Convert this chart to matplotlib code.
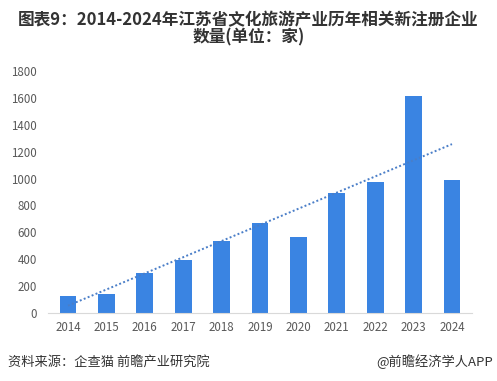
import matplotlib
matplotlib.use("Agg")
import matplotlib.pyplot as plt
import numpy as np

plt.rcParams['font.family'] = ['Noto Sans CJK SC', 'DejaVu Sans']

years = ['2014', '2015', '2016', '2017', '2018', '2019', '2020', '2021', '2022', '2023', '2024']
counts = [130, 145, 300, 395, 535, 670, 565, 892, 974, 1615, 989]
yticks = [0, 200, 400, 600, 800, 1000, 1200, 1400, 1600, 1800]

fig = plt.figure(figsize=(4.97, 3.81), dpi=100)
ax = fig.add_axes([0.0966, 0.1785, 0.853, 0.635])

x = np.arange(len(years))
ax.bar(x, counts, width=0.44, color='#3a84e2', zorder=2)

# linear trend line (fitted from the data)
k, b = np.polyfit(x, counts, 1)
ax.plot(x, k * x + b, linestyle=(0, (1, 1.2)), color='#4a7ec8', linewidth=1.4, zorder=3)

ax.set_xlim(-0.52, len(years) - 0.48)
ax.set_ylim(0, 1800)
ax.set_xticks(x)
ax.set_xticklabels(years)
ax.set_yticks(yticks)
ax.tick_params(axis='both', length=0, labelsize=8.3, colors='#595959')
ax.tick_params(axis='x', pad=6)
ax.tick_params(axis='y', pad=8)
for s in ['top', 'right', 'left']:
    ax.spines[s].set_visible(False)
ax.spines['bottom'].set_color('#d9d9d9')

fig.text(0.5, 0.947, '图表9：2014-2024年江苏省文化旅游产业历年相关新注册企业',
         ha='center', va='center', fontsize=12, fontweight='bold', color='#333333')
fig.text(0.5, 0.902, '数量(单位：家)',
         ha='center', va='center', fontsize=12, fontweight='bold', color='#333333')

fig.text(0.016, 0.05, '资料来源：企查猫 前瞻产业研究院', ha='left', va='center',
         fontsize=9.5, color='#333333')
fig.text(0.992, 0.05, '@前瞻经济学人APP', ha='right', va='center',
         fontsize=9.5, color='#333333')

fig.savefig('out.png', dpi=100)
